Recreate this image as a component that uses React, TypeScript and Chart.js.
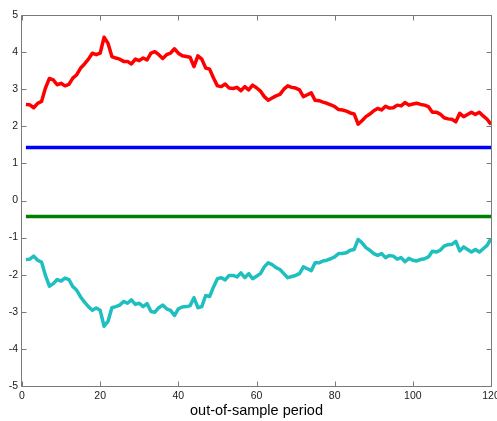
import React, { useEffect, useRef } from "react";
import { Chart, registerables } from "chart.js";

Chart.register(...registerables);

// Cumulative upper and lower paths over the out-of-sample periods 1..120
const upperPath: number[] = [
  2.59, 2.58, 2.50, 2.62, 2.67, 3.03, 3.29, 3.25, 3.12, 3.16,
  3.09, 3.13, 3.30, 3.39, 3.57, 3.68, 3.81, 3.97, 3.93, 3.97,
  4.40, 4.24, 3.88, 3.84, 3.81, 3.75, 3.75, 3.68, 3.81, 3.77,
  3.84, 3.79, 3.97, 4.01, 3.93, 3.83, 3.93, 3.97, 4.09, 3.97,
  3.90, 3.88, 3.86, 3.61, 3.90, 3.81, 3.57, 3.54, 3.30, 3.09,
  3.07, 3.14, 3.03, 3.02, 3.05, 2.96, 3.07, 2.98, 3.11, 3.04,
  2.95, 2.80, 2.70, 2.76, 2.82, 2.86, 3.00, 3.09, 3.05, 3.03,
  2.98, 2.80, 2.85, 2.90, 2.70, 2.69, 2.65, 2.62, 2.58, 2.53,
  2.45, 2.44, 2.41, 2.36, 2.33, 2.06, 2.15, 2.26, 2.33, 2.42,
  2.48, 2.44, 2.54, 2.49, 2.50, 2.57, 2.55, 2.64, 2.57, 2.60,
  2.62, 2.59, 2.57, 2.53, 2.38, 2.38, 2.33, 2.23, 2.20, 2.19,
  2.12, 2.35, 2.26, 2.32, 2.38, 2.32, 2.38, 2.28, 2.19, 2.05,
];

const lowerPath: number[] = [
  -1.59, -1.58, -1.50, -1.61, -1.66, -2.02, -2.31, -2.24, -2.13, -2.17,
  -2.09, -2.13, -2.32, -2.42, -2.60, -2.74, -2.86, -2.96, -2.90, -2.96,
  -3.39, -3.26, -2.89, -2.86, -2.82, -2.72, -2.77, -2.68, -2.80, -2.77,
  -2.86, -2.78, -2.99, -3.01, -2.89, -2.82, -2.92, -2.96, -3.10, -2.92,
  -2.87, -2.86, -2.84, -2.62, -2.89, -2.86, -2.56, -2.59, -2.33, -2.11,
  -2.08, -2.14, -2.02, -2.02, -2.06, -1.95, -2.08, -1.97, -2.11, -2.04,
  -1.97, -1.79, -1.68, -1.73, -1.81, -1.86, -1.97, -2.08, -2.05, -2.02,
  -1.97, -1.79, -1.84, -1.89, -1.68, -1.68, -1.63, -1.61, -1.57, -1.52,
  -1.43, -1.43, -1.41, -1.34, -1.32, -1.05, -1.14, -1.27, -1.34, -1.43,
  -1.48, -1.43, -1.54, -1.48, -1.50, -1.58, -1.54, -1.65, -1.56, -1.61,
  -1.63, -1.59, -1.57, -1.52, -1.37, -1.39, -1.34, -1.23, -1.19, -1.18,
  -1.10, -1.36, -1.25, -1.32, -1.39, -1.32, -1.39, -1.30, -1.21, -1.03,
];

const firstPeriod = 1;
const lastPeriod = 120;
const upperLevel = 1.43;
const lowerLevel = -0.43;

const xTickValues: number[] = [0, 20, 40, 60, 80, 100, 120];
const yTickValues: number[] = [-5, -4, -3, -2, -1, 0, 1, 2, 3, 4, 5];
const xAxisTitle = "out-of-sample period";

const toPoints = (values: number[]) =>
  values.map((v, i) => ({ x: firstPeriod + i, y: v }));

const flatLine = (level: number) => [
  { x: firstPeriod, y: level },
  { x: lastPeriod, y: level },
];

// Boxed axes with inward tick marks on all four sides, plus the x-axis caption
const boxAxesPlugin = {
  id: "boxAxes",
  beforeDatasetsDraw(chart: any) {
    const { ctx, chartArea: a, scales } = chart;
    const xs = scales.x;
    const ys = scales.y;
    const L = a.left - 0.5;
    const R = a.right + 0.5;
    const T = a.top + 0.5;
    const B = a.bottom + 0.5;
    const tick = 5;
    ctx.save();
    ctx.strokeStyle = "#7a7a7a";
    ctx.lineWidth = 1;
    ctx.beginPath();
    ctx.rect(L, T, R - L, B - T);
    for (const v of yTickValues) {
      const py = Math.round(ys.getPixelForValue(v)) + 0.5;
      ctx.moveTo(L, py);
      ctx.lineTo(L + tick, py);
      ctx.moveTo(R, py);
      ctx.lineTo(R - tick, py);
    }
    for (const v of xTickValues) {
      const px = Math.round(xs.getPixelForValue(v)) + 0.5;
      ctx.moveTo(px, B);
      ctx.lineTo(px, B - tick);
      ctx.moveTo(px, T);
      ctx.lineTo(px, T + tick);
    }
    ctx.stroke();
    ctx.restore();
  },
  afterDraw(chart: any) {
    const { ctx, chartArea: a } = chart;
    ctx.save();
    ctx.fillStyle = "#000000";
    ctx.font = '14.5px "Liberation Sans", Arial, sans-serif';
    ctx.textAlign = "center";
    ctx.textBaseline = "alphabetic";
    ctx.fillText(xAxisTitle, (a.left + a.right) / 2, 415);
    ctx.restore();
  },
};

export default function App() {
  const canvasRef = useRef<HTMLCanvasElement | null>(null);

  useEffect(() => {
    const canvas = canvasRef.current;
    if (!canvas) return;
    const tickFont = { family: '"Liberation Sans", Arial, sans-serif', size: 10.5 };

    const chart = new Chart(canvas, {
      type: "line",
      data: {
        datasets: [
          {
            data: toPoints(upperPath),
            borderColor: "#ff0000",
            borderWidth: 3.5,
            pointRadius: 0,
            tension: 0,
            borderJoinStyle: "round",
          },
          {
            data: flatLine(upperLevel),
            borderColor: "#0000ff",
            borderWidth: 3.5,
            pointRadius: 0,
          },
          {
            data: flatLine(lowerLevel),
            borderColor: "#008000",
            borderWidth: 3.5,
            pointRadius: 0,
          },
          {
            data: toPoints(lowerPath),
            borderColor: "#1fbfbf",
            borderWidth: 3.5,
            pointRadius: 0,
            tension: 0,
            borderJoinStyle: "round",
          },
        ],
      },
      options: {
        animation: false,
        responsive: false,
        maintainAspectRatio: false,
        events: [],
        layout: { padding: { left: 0, top: 15, right: 6, bottom: 0 } },
        plugins: {
          legend: { display: false },
          tooltip: { enabled: false },
          title: { display: false },
        },
        scales: {
          x: {
            type: "linear",
            min: 0,
            max: 120,
            grid: { display: false, drawTicks: false },
            border: { display: false },
            afterBuildTicks: (scale: any) => {
              scale.ticks = xTickValues.map((v) => ({ value: v }));
            },
            afterFit: (scale: any) => {
              scale.height = 35;
              scale.paddingLeft = 0;
              scale.paddingRight = 0;
            },
            ticks: {
              font: tickFont,
              color: "#1a1a1a",
              padding: 3.5,
              maxRotation: 0,
              autoSkip: false,
            },
          },
          y: {
            type: "linear",
            min: -5,
            max: 5,
            grid: { display: false, drawTicks: false },
            border: { display: false },
            afterBuildTicks: (scale: any) => {
              scale.ticks = yTickValues.map((v) => ({ value: v }));
            },
            afterFit: (scale: any) => {
              scale.width = 22;
              scale.paddingTop = 0;
              scale.paddingBottom = 0;
            },
            ticks: {
              font: tickFont,
              color: "#1a1a1a",
              padding: 4,
              autoSkip: false,
            },
          },
        },
      },
      plugins: [boxAxesPlugin],
    } as any);

    return () => chart.destroy();
  }, []);

  return (
    <div
      style={{
        position: "absolute",
        left: 0,
        top: 0,
        width: 497,
        height: 421,
        background: "#ffffff",
      }}
    >
      <canvas
        ref={canvasRef}
        width={497}
        height={421}
        style={{ display: "block", width: 497, height: 421 }}
      />
    </div>
  );
}
